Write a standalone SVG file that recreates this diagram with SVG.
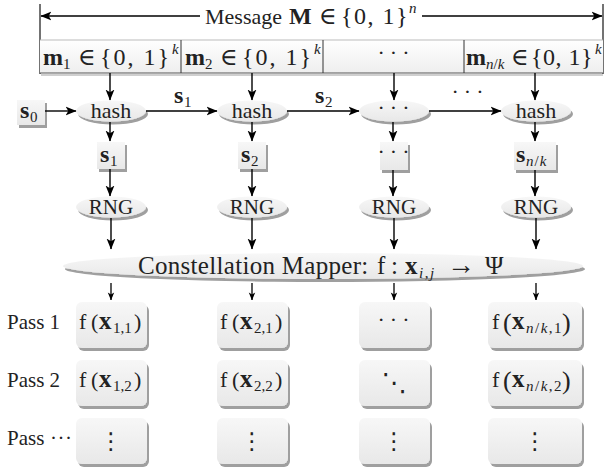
<svg xmlns="http://www.w3.org/2000/svg" width="608" height="468" viewBox="0 0 608 468">
<defs>
<style>
.t{font-family:"Liberation Serif","DejaVu Serif",serif;font-size:21px;fill:#222;}
.mt{font-size:24px;}
.m{text-anchor:middle;}
.b{font-weight:bold;}
.i{font-style:italic;}
.sm{font-size:15px;}
.dd{font-family:"Liberation Serif",serif;font-size:22px;letter-spacing:5px;text-anchor:middle;fill:#222;}
.node{fill:url(#ng);filter:url(#sh);}
.cell{fill:url(#cg);}
.edge{stroke:#000;stroke-width:1.4;fill:none;marker-end:url(#ah);}
.edge2{stroke:#000;stroke-width:1.3;fill:none;marker-end:url(#ah2);}
.dots{font-family:"DejaVu Sans",sans-serif;fill:#222;text-anchor:middle;}
</style>
<linearGradient id="ng" x1="0" y1="0" x2="0" y2="1">
<stop offset="0" stop-color="#f7f7f7"/>
<stop offset="1" stop-color="#e8e8e8"/>
</linearGradient>
<linearGradient id="cg" x1="0" y1="0" x2="0" y2="1">
<stop offset="0" stop-color="#ffffff"/>
<stop offset="1" stop-color="#eeeeee"/>
</linearGradient>
<filter id="sh" x="-10%" y="-20%" width="130%" height="160%">
<feGaussianBlur in="SourceAlpha" stdDeviation="0.6"/>
<feOffset dx="2" dy="2.5" result="o"/>
<feComponentTransfer><feFuncA type="linear" slope="0.38"/></feComponentTransfer>
<feMerge><feMergeNode/><feMergeNode in="SourceGraphic"/></feMerge>
</filter>
<marker id="ah" viewBox="0 0 10 10" refX="9.5" refY="5" markerWidth="11" markerHeight="11" markerUnits="userSpaceOnUse" orient="auto">
<path d="M0,1 L10,5 L0,9 L2.5,5 z" fill="#000"/>
</marker>
<marker id="ah2" viewBox="0 0 10 10" refX="9.5" refY="5" markerWidth="8" markerHeight="8" markerUnits="userSpaceOnUse" orient="auto">
<path d="M0,1 L10,5 L0,9 L2.5,5 z" fill="#000"/>
</marker>
</defs>
<rect width="608" height="468" fill="#fff"/>

<g id="message">
<line x1="40" y1="4" x2="40" y2="74" stroke="#444" stroke-width="1.5"/>
<line x1="603" y1="4" x2="603" y2="74" stroke="#444" stroke-width="1.5"/>
<text class="t" y="24" style="font-size:22px"><tspan x="205">Message</tspan><tspan x="289" class="b" style="font-size:24px">M</tspan><tspan x="319" class="mt">∈</tspan><tspan x="341" class="mt" style="letter-spacing:1.5px">{0, 1}</tspan><tspan x="409" y="13" class="i sm">n</tspan></text>
</g>

<g id="cells">
<rect x="41" y="74" width="562" height="2" fill="#cfcfcf"/>
<rect id="cell1" class="cell" x="40" y="40" width="141" height="33"/>
<rect id="cell2" class="cell" x="181" y="40" width="142" height="33"/>
<rect id="cell3" class="cell" x="323" y="40" width="141" height="33"/>
<rect id="cell4" class="cell" x="464" y="40" width="139" height="33"/>
<line x1="40" y1="40" x2="603" y2="40" stroke="#bbb" stroke-width="1"/>
<line x1="40" y1="73" x2="603" y2="73" stroke="#555" stroke-width="1"/>
<line x1="181" y1="40" x2="181" y2="73" stroke="#333" stroke-width="1"/>
<line x1="323" y1="40" x2="323" y2="73" stroke="#333" stroke-width="1"/>
<line x1="464" y1="40" x2="464" y2="73" stroke="#333" stroke-width="1"/>
<text class="t mt" y="65"><tspan x="43" class="b">m</tspan><tspan x="63" y="69" class="sm">1</tspan><tspan x="78" y="65">∈</tspan><tspan x="100" style="letter-spacing:2px">{0, 1}</tspan><tspan x="172" y="54" class="i sm">k</tspan></text>
<text class="t mt" y="65"><tspan x="185" class="b">m</tspan><tspan x="205" y="69" class="sm">2</tspan><tspan x="220" y="65">∈</tspan><tspan x="242" style="letter-spacing:2px">{0, 1}</tspan><tspan x="314" y="54" class="i sm">k</tspan></text>
<text class="dd" x="396" y="60">···</text>
<text class="t mt" y="65"><tspan x="466" class="b">m</tspan><tspan x="486" y="69" class="i sm">n</tspan><tspan class="sm">/</tspan><tspan class="i sm">k</tspan><tspan x="511" y="65">∈</tspan><tspan x="531" style="letter-spacing:0.5px">{0, 1}</tspan><tspan x="595" y="54" class="i sm">k</tspan></text>
</g>

<g id="s0"><rect class="node" x="17" y="100" width="28" height="25"/><text class="t" y="118"><tspan x="20" class="b mt">s</tspan><tspan x="30" y="122" class="sm">0</tspan></text></g>

<g id="hash1"><ellipse class="node" cx="111" cy="111" rx="35" ry="10.5"/><text class="t m" x="111" y="118" style="font-size:22px">hash</text></g>
<g id="hash2"><ellipse class="node" cx="252" cy="111" rx="35" ry="10.5"/><text class="t m" x="252" y="118" style="font-size:22px">hash</text></g>
<g id="hash3"><ellipse class="node" cx="394" cy="111" rx="35" ry="10.5"/><text class="dd" x="396" y="115">···</text></g>
<g id="hash4"><ellipse class="node" cx="536" cy="111" rx="35" ry="10.5"/><text class="t m" x="536" y="118" style="font-size:22px">hash</text></g>

<g id="s1"><rect class="node" x="97" y="142" width="28" height="27"/><text class="t" y="162"><tspan x="100" class="b mt">s</tspan><tspan x="110" y="166" class="sm">1</tspan></text></g>
<g id="s2"><rect class="node" x="238" y="142" width="28" height="27"/><text class="t" y="162"><tspan x="241" class="b mt">s</tspan><tspan x="251" y="166" class="sm">2</tspan></text></g>
<g id="s3"><rect class="node" x="380" y="142" width="28" height="28"/><text class="dd" x="396" y="159">···</text></g>
<g id="s4"><rect class="node" x="514" y="142" width="42" height="28"/><text class="t" y="162"><tspan x="516" class="b mt">s</tspan><tspan x="526" y="166" class="i sm" style="letter-spacing:1px">n</tspan><tspan class="sm" style="letter-spacing:1px">/</tspan><tspan class="i sm">k</tspan></text></g>

<g id="rng1"><ellipse class="node" cx="111" cy="207" rx="35" ry="10.5"/><text class="t m" x="111" y="214">RNG</text></g>
<g id="rng2"><ellipse class="node" cx="252" cy="207" rx="35" ry="10.5"/><text class="t m" x="252" y="214">RNG</text></g>
<g id="rng3"><ellipse class="node" cx="394" cy="207" rx="35" ry="10.5"/><text class="t m" x="394" y="214">RNG</text></g>
<g id="rng4"><ellipse class="node" cx="536" cy="207" rx="35" ry="10.5"/><text class="t m" x="536" y="214">RNG</text></g>

<g id="mapper"><ellipse class="node" cx="323" cy="266" rx="260" ry="13"/><text class="t" y="274" style="font-size:25px"><tspan x="138" style="letter-spacing:0.3px">Constellation Mapper:</tspan><tspan x="377">f</tspan><tspan x="391">:</tspan><tspan x="405" class="b">x</tspan><tspan x="419" y="278" class="i sm" style="letter-spacing:1.5px">i</tspan><tspan class="sm" style="letter-spacing:1.5px">,</tspan><tspan class="i sm">j</tspan><tspan x="447" y="274" style="font-size:28px">→</tspan><tspan x="485">Ψ</tspan></text></g>

<g id="labels">
<text class="t" x="7" y="329">Pass 1</text>
<text class="t" x="7" y="387">Pass 2</text>
<text class="t" y="445"><tspan x="7">Pass</tspan><tspan x="50" style="letter-spacing:0.5px">···</tspan></text>
</g>

<g id="p11"><rect class="node" x="76" y="302" width="71" height="46" rx="6"/><text class="t" y="329" style="font-size:22px"><tspan x="79">f</tspan><tspan x="91">(</tspan><tspan x="99" class="b" style="font-size:25px">x</tspan><tspan x="113" y="333" class="sm">1,1</tspan><tspan x="134" y="329">)</tspan></text></g>
<g id="p21"><rect class="node" x="217" y="302" width="71" height="46" rx="6"/><text class="t" y="329" style="font-size:22px"><tspan x="220">f</tspan><tspan x="232">(</tspan><tspan x="240" class="b" style="font-size:25px">x</tspan><tspan x="254" y="333" class="sm">2,1</tspan><tspan x="275" y="329">)</tspan></text></g>
<g id="p31"><rect class="node" x="359" y="302" width="71" height="46" rx="6"/><text class="dd" x="396" y="327">···</text></g>
<g id="p41"><rect class="node" x="488" y="302" width="94" height="46" rx="6"/><text class="t" y="329" style="font-size:22px"><tspan x="492">f</tspan><tspan x="503" y="331" style="font-size:26px">(</tspan><tspan x="512" y="329" class="b" style="font-size:25px">x</tspan><tspan x="526" y="333" class="sm" style="letter-spacing:1.5px"><tspan class="i">n</tspan>/<tspan class="i">k</tspan>,1</tspan><tspan x="562" y="331" style="font-size:26px">)</tspan></text></g>

<g id="p12"><rect class="node" x="76" y="360" width="71" height="46" rx="6"/><text class="t" y="387" style="font-size:22px"><tspan x="79">f</tspan><tspan x="91">(</tspan><tspan x="99" class="b" style="font-size:25px">x</tspan><tspan x="113" y="391" class="sm">1,2</tspan><tspan x="134" y="387">)</tspan></text></g>
<g id="p22"><rect class="node" x="217" y="360" width="71" height="46" rx="6"/><text class="t" y="387" style="font-size:22px"><tspan x="220">f</tspan><tspan x="232">(</tspan><tspan x="240" class="b" style="font-size:25px">x</tspan><tspan x="254" y="391" class="sm">2,2</tspan><tspan x="275" y="387">)</tspan></text></g>
<g id="p32"><rect class="node" x="359" y="360" width="71" height="46" rx="6"/><text class="dots" x="394" y="391" style="font-size:25px">⋱</text></g>
<g id="p42"><rect class="node" x="488" y="360" width="94" height="46" rx="6"/><text class="t" y="387" style="font-size:22px"><tspan x="492">f</tspan><tspan x="503" y="389" style="font-size:26px">(</tspan><tspan x="512" y="387" class="b" style="font-size:25px">x</tspan><tspan x="526" y="391" class="sm" style="letter-spacing:1.5px"><tspan class="i">n</tspan>/<tspan class="i">k</tspan>,2</tspan><tspan x="562" y="389" style="font-size:26px">)</tspan></text></g>

<g id="p13"><rect class="node" x="76" y="418" width="71" height="46" rx="6"/><text class="dots" x="111" y="449" style="font-size:23px">⋮</text></g>
<g id="p23"><rect class="node" x="217" y="418" width="71" height="46" rx="6"/><text class="dots" x="252" y="449" style="font-size:23px">⋮</text></g>
<g id="p33"><rect class="node" x="359" y="418" width="71" height="46" rx="6"/><text class="dots" x="394" y="449" style="font-size:23px">⋮</text></g>
<g id="p43"><rect class="node" x="488" y="418" width="94" height="46" rx="6"/><text class="dots" x="535" y="449" style="font-size:23px">⋮</text></g>

<g id="connectors">
<line class="edge" x1="200" y1="16" x2="41" y2="16"/>
<line class="edge" x1="422" y1="16" x2="602" y2="16"/>
<line class="edge" x1="110" y1="73" x2="110" y2="100"/>
<line class="edge" x1="252" y1="73" x2="252" y2="100"/>
<line class="edge" x1="394" y1="73" x2="394" y2="100"/>
<line class="edge" x1="535" y1="73" x2="535" y2="100"/>
<line class="edge" x1="45" y1="111" x2="76" y2="111"/>
<line class="edge" x1="146" y1="111" x2="217" y2="111"/>
<line class="edge" x1="287" y1="111" x2="359" y2="111"/>
<line class="edge" x1="429" y1="111" x2="501" y2="111"/>
<text class="t" y="103"><tspan x="174" class="b mt">s</tspan><tspan x="184" y="107" class="sm">1</tspan></text>
<text class="t" y="103"><tspan x="315" class="b mt">s</tspan><tspan x="325" y="107" class="sm">2</tspan></text>
<text class="dd" x="470" y="99">···</text>
<line class="edge" x1="110" y1="122" x2="110" y2="141"/>
<line class="edge" x1="252" y1="122" x2="252" y2="141"/>
<line class="edge" x1="393" y1="122" x2="393" y2="141"/>
<line class="edge" x1="535" y1="122" x2="535" y2="141"/>
<line class="edge" x1="110" y1="169" x2="110" y2="196"/>
<line class="edge" x1="252" y1="169" x2="252" y2="196"/>
<line class="edge" x1="393" y1="170" x2="393" y2="196"/>
<line class="edge" x1="535" y1="170" x2="535" y2="196"/>
<line class="edge" x1="111" y1="218" x2="111" y2="249"/>
<line class="edge" x1="252" y1="218" x2="252" y2="249"/>
<line class="edge" x1="394" y1="218" x2="394" y2="249"/>
<line class="edge" x1="536" y1="218" x2="536" y2="249"/>
<line class="edge2" x1="111" y1="283" x2="111" y2="300"/>
<line class="edge2" x1="252" y1="283" x2="252" y2="300"/>
<line class="edge2" x1="394" y1="283" x2="394" y2="300"/>
<line class="edge2" x1="536" y1="283" x2="536" y2="300"/>
</g>
</svg>
